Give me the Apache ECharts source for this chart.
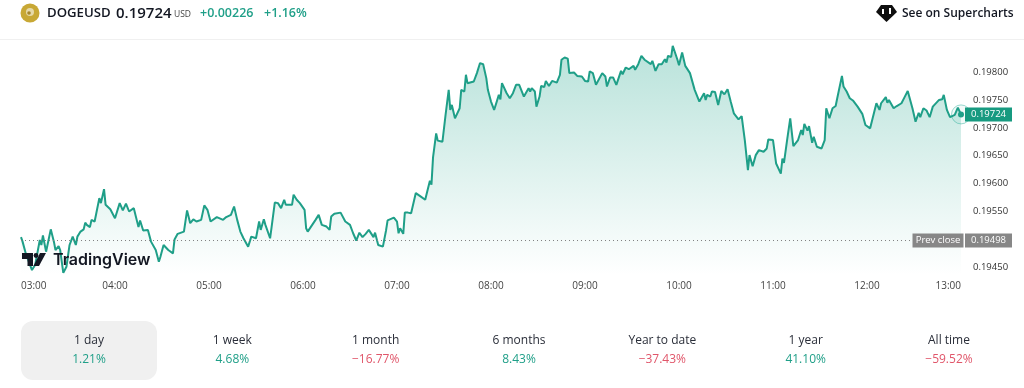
<!DOCTYPE html>
<html><head><meta charset="utf-8">
<style>html,body{margin:0;padding:0;background:#fff}#c{width:1024px;height:388px}</style>
<script src="https://cdn.jsdelivr.net/npm/echarts@6/dist/echarts.min.js"></script>
</head><body><div id="c"></div>
<script>
const minutes=[180,181,183,187,189,192,193,194,196,199,201,202,204,205,207,209,211,213,215,216,218,220,221,222,224,225,227,228,230,231,233,234,237,240,243,245,247,249,252,255,256,258,261,263,266,268,269,271,274,277,278,280,284,286,288,290,292,295,297,299,301,305,309,311,314,316,318,320,322,325,327,330,332,333,335,336,339,340,342,344,346,348,349,353,354,356,358,361,362,363,368,370,372,375,377,378,380,384,387,390,392,394,396,398,400,402,405,406,408,411,413,414,418,420,421,422,424,425,427,429,432,435,438,441,442,443,444,445,446,449,451,453,454,455,457,458,460,461,463,464,465,469,471,473,475,477,478,480,482,485,486,487,488,490,492,494,496,498,501,504,505,506,508,509,511,512,514,515,517,519,522,524,525,527,529,530,533,535,538,540,542,543,545,547,551,553,554,556,558,560,563,564,566,568,571,572,574,576,578,582,583,585,587,589,591,592,593,595,596,597,599,600,602,604,607,608,610,613,616,617,618,620,621,623,625,626,627,629,631,633,635,638,640,642,644,645,647,649,651,652,654,656,657,660,662,665,666,667,669,671,673,676,678,679,680,682,683,685,686,688,691,693,694,696,698,700,701,704,705,707,709,711,714,717,719,722,726,728,729,732,733,734,737,739,742,744,746,749,751,753,754,756,758,760,762,763,766,768,769,770,771,773,776,778,780];
const prices=[0.19504,0.19496,0.19475,0.19445,0.19454,0.19499,0.1949,0.19507,0.19478,0.19518,0.19496,0.19481,0.19488,0.19481,0.1944,0.19451,0.1949,0.19505,0.1949,0.19505,0.19514,0.19518,0.1953,0.19526,0.19522,0.19535,0.19532,0.19546,0.19574,0.19565,0.1959,0.19562,0.19554,0.19538,0.19565,0.19552,0.19564,0.1955,0.19556,0.19522,0.19534,0.19516,0.19517,0.19496,0.19481,0.1946,0.19469,0.1949,0.19481,0.19475,0.195,0.1951,0.19514,0.19552,0.19529,0.19536,0.19532,0.19535,0.19561,0.19553,0.19532,0.1954,0.19535,0.1954,0.19544,0.19559,0.19535,0.19514,0.19502,0.19487,0.19505,0.19502,0.19532,0.19517,0.19536,0.19526,0.19502,0.19523,0.19566,0.19565,0.19556,0.19571,0.19562,0.19562,0.1958,0.19571,0.19565,0.19553,0.1952,0.19514,0.19535,0.19544,0.19526,0.19523,0.19517,0.19541,0.19546,0.19548,0.19532,0.19526,0.19511,0.19498,0.19512,0.19504,0.1951,0.19517,0.19504,0.19512,0.1949,0.19487,0.19516,0.19534,0.19539,0.19532,0.19511,0.1952,0.1951,0.19548,0.19548,0.19547,0.19583,0.19577,0.19571,0.19605,0.19598,0.19647,0.19648,0.1969,0.19677,0.19675,0.19723,0.19768,0.19732,0.19741,0.19717,0.19719,0.19735,0.19768,0.19765,0.19795,0.1978,0.19783,0.19798,0.19816,0.19814,0.19789,0.19768,0.19747,0.19732,0.19759,0.19751,0.1978,0.19781,0.19762,0.19753,0.19762,0.19777,0.19777,0.19756,0.19771,0.19765,0.19771,0.19765,0.19738,0.19756,0.19775,0.19773,0.19784,0.19775,0.19784,0.19781,0.19795,0.19822,0.19826,0.19824,0.19798,0.19799,0.19793,0.19792,0.19784,0.19783,0.19801,0.19798,0.19777,0.19798,0.19792,0.19774,0.1979,0.1979,0.19777,0.19802,0.19796,0.19808,0.19805,0.19811,0.19804,0.19814,0.19829,0.19822,0.19814,0.1982,0.19802,0.19814,0.19814,0.19823,0.19817,0.19829,0.19827,0.19847,0.19845,0.19822,0.19812,0.19835,0.19811,0.19798,0.19795,0.19768,0.19747,0.19762,0.1975,0.19759,0.19756,0.19765,0.19764,0.19741,0.19743,0.19766,0.1976,0.19769,0.19747,0.19726,0.19715,0.19721,0.19678,0.19624,0.19651,0.19631,0.19651,0.1966,0.19663,0.19657,0.19663,0.19679,0.19678,0.19636,0.19618,0.19645,0.19637,0.19678,0.19717,0.19667,0.19678,0.19696,0.19687,0.19707,0.19695,0.19703,0.19673,0.19684,0.19666,0.19663,0.19678,0.19735,0.19717,0.19735,0.19739,0.19753,0.19793,0.19774,0.19765,0.19753,0.19749,0.19738,0.19725,0.19705,0.19699,0.19744,0.19732,0.19744,0.19755,0.19745,0.1975,0.19735,0.19739,0.19744,0.19755,0.19766,0.19735,0.19711,0.19727,0.19719,0.19735,0.19731,0.19719,0.19738,0.19735,0.1975,0.19751,0.19759,0.19762,0.19732,0.19719,0.19723,0.19736,0.19724];
const prevClose=0.19498;
const lastPrice=0.19724;
const symbol='DOGEUSD', quote='USD', change='+0.00226', changePct='+1.16%';
const periods=['1 day','1 week','1 month','6 months','Year to date','1 year','All time'];
const returns=['1.21%','4.68%','\u221216.77%','8.43%','\u221237.43%','41.10%','\u221259.52%'];

const FONT='"Open Sans","Noto Sans",sans-serif';
const GREEN='#1f9f88', RED='#e0566a';
const pts=minutes.map((m,i)=>[m,prices[i]]);
const hhmm=m=>String(Math.floor(m/60)).padStart(2,'0')+':'+String(m%60).padStart(2,'0');

function txt(x,y,t,size,color,weight,align,font){
  return {type:'text',x,y,z:100,silent:true,style:{text:t,fontSize:size,fill:color,fontWeight:weight||400,
    fontFamily:font||FONT,align:align||'left',verticalAlign:'middle'}};
}
const g=[
  {type:'line',z:1,shape:{x1:0,y1:39.5,x2:1024,y2:39.5},style:{stroke:'#f0f0f0',lineWidth:1}},
  {type:'circle',z:100,shape:{cx:30,cy:13,r:9.5},style:{fill:'#c8a835'}},
  {type:'circle',z:101,shape:{cx:30,cy:12,r:4},style:{fill:'#e6d9a8'}},
  {type:'circle',z:102,shape:{cx:29,cy:13,r:1.8},style:{fill:'#a5852a'}},
  txt(47,13.5,symbol,13.2,'#131722',600),
  txt(116,13.5,lastPrice.toFixed(5),15,'#131722',600),
  txt(174,15,quote,8.5,'#444',400),
  txt(200,13.5,change,12.5,GREEN,600),
  txt(264,13.5,changePct,12.5,GREEN,600),
  {type:'polygon',z:100,shape:{points:[[876,12],[881,5],[892,5],[897,12],[886.5,22]]},style:{fill:'#0f0f0f'}},
  {type:'rect',z:101,shape:{x:882,y:9,width:2,height:5},style:{fill:'#fff'}},
  {type:'rect',z:101,shape:{x:889,y:8,width:2,height:6},style:{fill:'#fff'}},
  txt(902,13.5,'See on Supercharts',12,'#131722',600),
  {type:'polygon',z:100,shape:{points:[[22,253],[33,253],[33,266],[27.5,266],[27.5,259],[22,259]]},style:{fill:'#131722'}},
  {type:'circle',z:100,shape:{cx:36,cy:255.5,r:2.4},style:{fill:'#131722'}},
  {type:'polygon',z:100,shape:{points:[[40,253],[46,253],[39,266],[33.5,266]]},style:{fill:'#131722'}},
  txt(53,260.5,'TradingView',16,'#131722',600,'left','Inter,sans-serif'),
  {type:'rect',z:1,shape:{x:21,y:321,width:136,height:59,r:12},style:{fill:'#f0f0f0'}}
];
periods.forEach((p,i)=>{
  const cx=89+i*143.33;
  g.push(txt(cx,341,p,12,'#2a2e39',400,'center'));
  g.push(txt(cx,360,returns[i],12,returns[i][0]==='\u2212'?RED:GREEN,400,'center'));
});

const tag=(val,label,w,off,bg)=>({coord:[780,val],symbol:'rect',symbolSize:[w,14],symbolOffset:[off,0],
  itemStyle:{color:bg,borderWidth:0},
  label:{show:true,position:'inside',formatter:label,color:'#fff',fontSize:9.5,fontFamily:FONT,fontWeight:500}});

const chart=echarts.init(document.getElementById('c'),null,{renderer:'canvas'});
chart.setOption({
  animation:false,
  backgroundColor:'#fff',
  grid:{left:21,top:44.1,width:940,height:251.1},
  graphic:g,
  xAxis:{type:'value',min:180,max:780,interval:60,
    axisLine:{show:false},axisTick:{show:false},splitLine:{show:false},
    axisLabel:{formatter:v=>hhmm(v),color:'#444',fontSize:10,fontFamily:FONT,fontWeight:500,margin:-14,
      alignMinLabel:'left',alignMaxLabel:'right'}},
  yAxis:{type:'value',position:'right',min:0.194,max:0.1985,interval:0.0005,
    axisLine:{show:false},axisTick:{show:false},splitLine:{show:false},
    axisLabel:{formatter:v=>v.toFixed(5),showMinLabel:false,showMaxLabel:false,color:'#333',fontSize:9.5,fontFamily:FONT,fontWeight:500,margin:12}},
  series:[
   {type:'line',data:[[180,prevClose],[780,prevClose]],symbol:'none',showSymbol:false,silent:true,z:3,
    lineStyle:{color:'#808080',type:[1,3],width:1}},
   {type:'line',data:pts,showSymbol:false,symbol:'none',smooth:false,clip:false,z:2,
    lineStyle:{color:GREEN,width:2},
    areaStyle:{origin:'start',opacity:1,color:new echarts.graphic.LinearGradient(0,44,0,275,[
      {offset:0,color:'rgba(34,165,140,0.32)'},{offset:1,color:'rgba(34,165,140,0)'}],true)},
    markPoint:{silent:true,z:6,data:[
      {coord:[780,lastPrice],symbol:'circle',symbolSize:19,itemStyle:{color:'rgba(34,171,148,0.06)',borderColor:'rgba(34,171,148,0.45)',borderWidth:1},label:{show:false}},
      {coord:[780,lastPrice],symbol:'circle',symbolSize:6,itemStyle:{color:GREEN},label:{show:false}},
      tag(lastPrice,lastPrice.toFixed(5),47,27.5,'#179a80'),
      tag(prevClose,'Prev close',51,-23,'#878787'),
      tag(prevClose,prevClose.toFixed(5),47,27.5,'#878787')
    ]}
   }]
});
</script></body></html>
